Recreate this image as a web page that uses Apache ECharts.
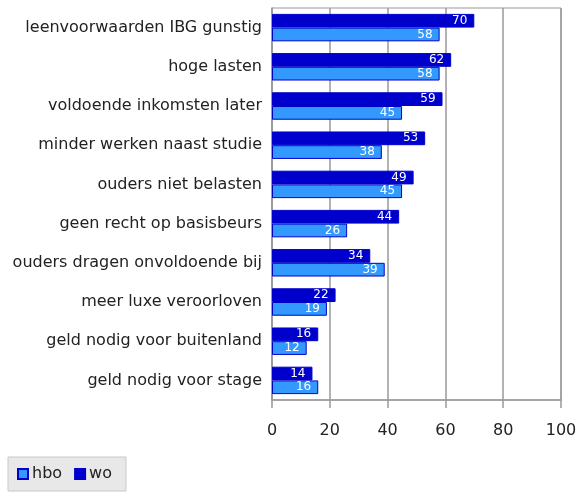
<!DOCTYPE html>
<html><head><meta charset="utf-8">
<script src="https://cdn.jsdelivr.net/npm/echarts@6/dist/echarts.min.js"></script>
<style>html,body{margin:0;padding:0;background:#fff}#c{width:584px;height:493px}</style>
</head><body><div id="c"></div>
<script>
var categories = ["leenvoorwaarden IBG gunstig","hoge lasten","voldoende inkomsten later","minder werken naast studie","ouders niet belasten","geen recht op basisbeurs","ouders dragen onvoldoende bij","meer luxe veroorloven","geld nodig voor buitenland","geld nodig voor stage"];
var woValues = [70,62,59,53,49,44,34,22,16,14];
var hboValues = [58,58,45,38,45,26,39,19,12,16];
var xTicks = [0,20,40,60,80,100];

var chart = echarts.init(document.getElementById('c'), null, {renderer:'canvas'});
var font = 'DejaVu Sans';
var lbl = {show:true, position:'insideRight', color:'#fff', fontSize:12, fontFamily:font, distance:7};
chart.setOption({
  animation:false,
  grid:{left:272, right:23, top:8, bottom:93, show:true, borderColor:'#999', borderWidth:1, containLabel:false},
  legend:{
    data:['hbo','wo'], left:8, top:457, orient:'horizontal',
    backgroundColor:'#e8e8e8', borderColor:'#c8c8c8', borderWidth:1,
    padding:[9,14,9,9], itemWidth:10, itemHeight:10, itemGap:12, icon:'rect',
    textStyle:{fontFamily:font, fontSize:16, color:'#222', padding:[0,0,0,-1]}
  },
  xAxis:{
    type:'value', min:xTicks[0], max:xTicks[xTicks.length-1], interval:20,
    axisLine:{show:true, lineStyle:{color:'#999', width:1.5}},
    axisTick:{show:true, length:8, lineStyle:{color:'#999', width:1.5}},
    axisLabel:{fontFamily:font, fontSize:16, color:'#222', margin:23},
    splitLine:{show:true, lineStyle:{color:'#999', width:1.5}}
  },
  yAxis:{
    type:'category', data:categories, inverse:true,
    axisLine:{show:true, lineStyle:{color:'#999', width:1.5}},
    axisTick:{show:false},
    axisLabel:{fontFamily:font, fontSize:16, color:'#222', margin:10}
  },
  series:[
    {name:'wo', type:'bar', data:woValues, barCategoryGap:'30%', barGap:'0%',
     itemStyle:{color:'#0000cc', borderColor:'#0000cc', borderWidth:1}, label:lbl},
    {name:'hbo', type:'bar', data:hboValues, barCategoryGap:'30%', barGap:'0%',
     itemStyle:{color:'#3399ff', borderColor:'#0000cc', borderWidth:1}, label:lbl}
  ]
});
</script></body></html>
